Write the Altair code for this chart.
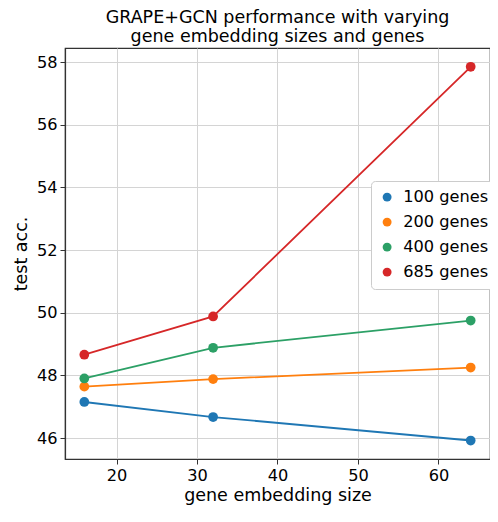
import altair as alt
import pandas as pd

emb_sizes = [16, 32, 64]
series = ["100 genes", "200 genes", "400 genes", "685 genes"]
acc_100 = [47.15, 46.67, 45.92]
acc_200 = [47.64, 47.88, 48.25]
acc_400 = [47.90, 48.88, 49.75]
acc_685 = [48.66, 49.88, 57.85]
colors = ["#1f77b4", "#ff7f0e", "#2ca066", "#d62728"]

rows = []
for name, vals in zip(series, [acc_100, acc_200, acc_400, acc_685]):
    for x, v in zip(emb_sizes, vals):
        rows.append({"size": x, "acc": v, "genes": name})
df = pd.DataFrame(rows)

FONT = "DejaVu Sans"
xs = alt.Scale(domain=[13.6, 66.4], nice=False, zero=False)
ys = alt.Scale(domain=[45.33, 58.45], nice=False, zero=False)
col = alt.Color("genes:N", scale=alt.Scale(domain=series, range=colors),
                legend=alt.Legend(title=None, orient="none", legendX=306, legendY=133,
                                  labelFontSize=16.2, labelFont=FONT, labelColor="black",
                                  symbolType="circle", symbolSize=80, symbolStrokeWidth=0,
                                  rowPadding=8, padding=8, labelOffset=8,
                                  strokeColor="#cccccc",
                                  fillColor="white", cornerRadius=4, labelLimit=200))

x_enc = alt.X("size:Q", scale=xs, title="gene embedding size",
              axis=alt.Axis(values=[20, 30, 40, 50, 60], format="d"))
y_enc = alt.Y("acc:Q", scale=ys, title="test acc.",
              axis=alt.Axis(values=[46, 48, 50, 52, 54, 56, 58], format="d"))

base = alt.Chart(df).encode(x=x_enc, y=y_enc, color=col, detail="genes:N")
lines = base.mark_line(strokeWidth=1.8)
pts = base.mark_point(filled=True, size=95, opacity=1, shape="circle")

chart = (lines + pts).properties(
    width=425, height=411,
    title=alt.Title(["GRAPE+GCN performance with varying", "gene embedding sizes and genes"],
                    fontSize=17.5, font=FONT, fontWeight="normal", color="black",
                    anchor="middle", offset=3, lineHeight=19),
    autosize=alt.AutoSizeParams(type="none"),
    padding={"left": 57, "top": 40, "right": 0, "bottom": 49},
).configure_axis(
    labelFont=FONT, titleFont=FONT, labelFontSize=16.2, titleFontSize=17.5,
    labelColor="black", titleColor="black", titleFontWeight="normal",
    grid=True, gridColor="#d4d4d4", gridWidth=1,
    domainColor="#333333", domainWidth=1.2, tickColor="#333333", tickSize=5,
    labelPadding=3,
).configure_axisX(titlePadding=3).configure_axisY(titlePadding=6).configure_view(
    stroke="#333333", strokeWidth=1.2
)

chart.save("out.html", embed_options={"renderer": "svg", "actions": False})
